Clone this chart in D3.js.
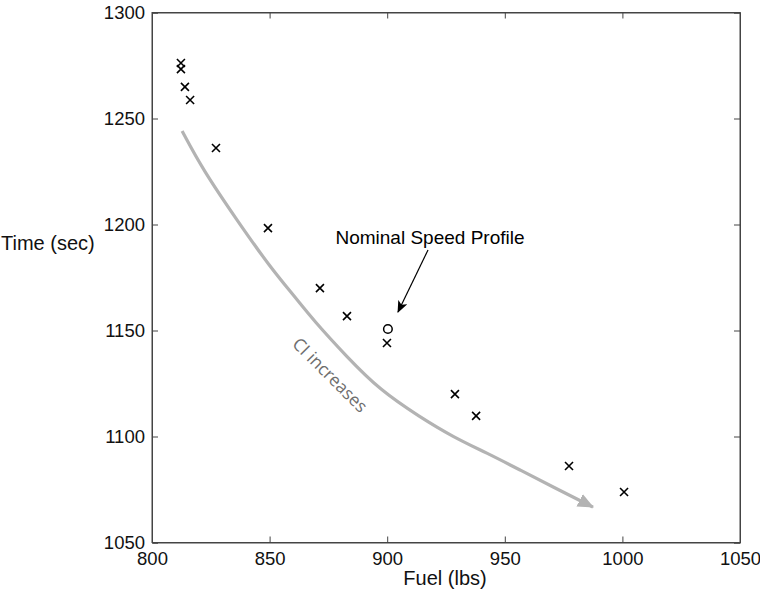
<!DOCTYPE html>
<html><head><meta charset="utf-8">
<script src="https://cdn.jsdelivr.net/npm/d3@7"></script>
<style>body{margin:0;background:#fff}text{font-family:"Liberation Sans",Arial,sans-serif}</style>
</head><body><svg id="c" width="760" height="597"></svg>
<script>
const fuel = [812.3, 812.3, 814.0, 816.2, 827.2, 849.3, 871.4, 882.9, 899.9, 928.8, 937.8, 977.3, 1000.7];
const time = [1276.2, 1273.3, 1264.9, 1258.7, 1236.1, 1198.3, 1170.0, 1156.8, 1144.1, 1120.0, 1109.7, 1086.1, 1073.8];
const nominalFuel = [900.3];
const nominalTime = [1150.7];
const curveFuel = [812.8, 821.7, 836.1, 850.2, 860.8, 868.5, 882.9, 896.9, 913.9, 928.0, 942.4, 956.5, 970.5, 987.5];
const curveTime = [1244.1, 1225.7, 1202.1, 1179.9, 1165.8, 1155.0, 1137.5, 1121.9, 1109.2, 1099.8, 1092.2, 1084.2, 1076.2, 1066.7];
const xTicks = [800, 850, 900, 950, 1000, 1050];
const yTicks = [1050, 1100, 1150, 1200, 1250, 1300];

const svg = d3.select("#c");
const x = d3.scaleLinear().domain([800, 1050]).range([152, 740]);
const y = d3.scaleLinear().domain([1050, 1300]).range([542.5, 12.5]);
const axisCol = "#444";

const defs = svg.append("defs");
defs.append("marker").attr("id","gArrow").attr("markerUnits","userSpaceOnUse")
  .attr("viewBox","0 0 16 14").attr("refX",15).attr("refY",7)
  .attr("markerWidth",16).attr("markerHeight",14).attr("orient","auto")
  .append("path").attr("d","M0,0 L16,7 L0,14 Z").attr("fill","#b3b3b3");
defs.append("marker").attr("id","bArrow").attr("markerUnits","userSpaceOnUse")
  .attr("viewBox","0 0 12 10").attr("refX",11).attr("refY",5)
  .attr("markerWidth",12).attr("markerHeight",10).attr("orient","auto")
  .append("path").attr("d","M0,0 L12,5 L0,10 L3,5 Z").attr("fill","#000");

const g = svg.append("g");
g.append("rect").attr("x",x(800)).attr("y",y(1300)).attr("width",x(1050)-x(800)).attr("height",y(1050)-y(1300))
  .attr("fill","none").attr("stroke",axisCol).attr("stroke-width",1);

const xb = g.append("g").attr("transform",`translate(0,${y(1050)})`)
  .call(d3.axisBottom(x).tickValues(xTicks).tickSize(-6).tickPadding(9).tickFormat(d3.format("d")));
const xt = g.append("g").attr("transform",`translate(0,${y(1300)})`)
  .call(d3.axisTop(x).tickValues(xTicks).tickSize(-6).tickFormat(""));
const yl = g.append("g").attr("transform",`translate(${x(800)},0)`)
  .call(d3.axisLeft(y).tickValues(yTicks).tickSize(-6).tickPadding(7).tickFormat(d3.format("d")));
const yr = g.append("g").attr("transform",`translate(${x(1050)},0)`)
  .call(d3.axisRight(y).tickValues(yTicks).tickSize(-6).tickFormat(""));
[xb,xt,yl,yr].forEach(a=>{
  a.select(".domain").attr("stroke",axisCol);
  a.selectAll(".tick line").attr("stroke",axisCol);
  a.selectAll("text").attr("font-size",18.5).attr("fill","#111").attr("font-family","'Liberation Sans',Arial,sans-serif");
});

svg.append("text").attr("x",445).attr("y",585).attr("text-anchor","middle").attr("font-size",20).attr("fill","#111").text("Fuel (lbs)");
svg.append("text").attr("x",1).attr("y",250).attr("text-anchor","start").attr("font-size",20).attr("fill","#111").text("Time (sec)");

const pts = curveFuel.map((f,i)=>[x(f), y(curveTime[i])]);
svg.append("path").attr("d", d3.line().curve(d3.curveBasis)(pts))
  .attr("fill","none").attr("stroke","#b3b3b3").attr("stroke-width",3.2)
  .attr("marker-end","url(#gArrow)");

svg.append("text").attr("transform",`translate(329,376) rotate(45)`).attr("text-anchor","middle")
  .attr("dominant-baseline","middle").attr("font-size",17.5).attr("fill","#6e6e6e")
  .style("font-family","'Open Sans',sans-serif").text("CI increases");

const s = 4;
const pg = svg.append("g").attr("stroke","#000").attr("stroke-width",1.6);
fuel.forEach((f,i)=>{
  const cx = x(f), cy = y(time[i]);
  pg.append("path").attr("d",`M${cx-s},${cy-s}L${cx+s},${cy+s}M${cx-s},${cy+s}L${cx+s},${cy-s}`);
});
nominalFuel.forEach((f,i)=>{
  svg.append("circle").attr("cx",x(f)).attr("cy",y(nominalTime[i])).attr("r",4.3)
    .attr("fill","none").attr("stroke","#000").attr("stroke-width",1.5);
});

svg.append("text").attr("x",430).attr("y",244).attr("text-anchor","middle").attr("font-size",19).attr("fill","#000").text("Nominal Speed Profile");
svg.append("line").attr("x1",428).attr("y1",250).attr("x2",398).attr("y2",312)
  .attr("stroke","#000").attr("stroke-width",1.2).attr("marker-end","url(#bArrow)");
</script></body></html>
